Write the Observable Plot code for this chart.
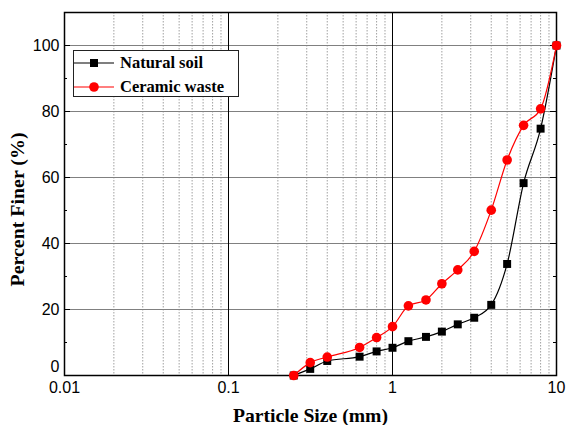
<!DOCTYPE html>
<html><head><meta charset="utf-8">
<script src="https://cdn.jsdelivr.net/npm/d3@7"></script>
<script src="https://cdn.jsdelivr.net/npm/@observablehq/plot@0.6"></script>
<style>
body{margin:0;background:#fff}
#wrap{position:relative;width:567px;height:425px}
#legend{position:absolute;left:73px;top:50px;width:166px;height:47px;border:1px solid #222;background:#fff;box-sizing:border-box;font-family:"Liberation Serif","Times New Roman",serif;font-weight:bold;font-size:16.5px;color:#000}
#legend .row{position:absolute;left:0;height:20px;display:flex;align-items:center}
#legend svg{display:block}
#legend span{margin-left:6px;white-space:nowrap}
</style></head><body><div id="wrap"></div>
<script>
// Data (particle size in mm, percent finer)
const sizes   = [0.25, 0.315, 0.4, 0.63, 0.8, 1, 1.25, 1.6, 2, 2.5, 3.15, 4, 5, 6.3, 8, 10];
const natural = [0, 2, 4.4, 5.7, 7.3, 8.4, 10.4, 11.7, 13.3, 15.5, 17.5, 21.4, 33.8, 58.3, 74.8, 100];
const ceramic = [0, 3.9, 5.6, 8.5, 11.5, 14.8, 21.1, 22.9, 27.8, 32, 37.6, 50.1, 65.3, 75.8, 80.8, 100];
const seriesNames = ["Natural soil", "Ceramic waste"];
const xTicks = [0.01, 0.1, 1, 10];
const xMinor = [0.02,0.03,0.04,0.05,0.06,0.07,0.08,0.09,0.2,0.3,0.4,0.5,0.6,0.7,0.8,0.9,2,3,4,5,6,7,8,9];
const yTicks = [20, 40, 60, 80, 100];
const yMinor = [10, 30, 50, 70, 90, 110];
const yZero = [0];

const natData = sizes.map((s, i) => ({size: s, pct: natural[i]}));
const cerData = sizes.map((s, i) => ({size: s, pct: ceramic[i]}));

const W = 567, H = 425, mL = 64, mR = 11, mT = 12, mB = 50;
const pW = W - mL - mR;
const serif = "'Liberation Serif', 'Times New Roman', serif";

const chart = Plot.plot({
  width: W, height: H,
  marginLeft: mL, marginRight: mR, marginTop: mT, marginBottom: mB,
  style: {fontFamily: "'Liberation Sans', Arial, sans-serif", fontSize: "16px", background: "#fff", color: "#000"},
  x: {type: "log", domain: [0.01, 10], axis: null},
  y: {domain: [0, 110], axis: null},
  marks: [
    Plot.gridX(xMinor, {stroke: "#a0a0a0", strokeOpacity: 1, strokeWidth: 1, strokeDasharray: "1.5,1.5"}),
    Plot.gridY(yTicks, {stroke: "#808080", strokeOpacity: 1, strokeWidth: 1}),
    Plot.gridX([0.1, 1], {stroke: "#000", strokeOpacity: 1, strokeWidth: 1}),
    Plot.tickY(yTicks, {y: d => d, stroke: "#000", insetRight: pW - 6}),
    Plot.tickY(yMinor, {y: d => d, stroke: "#000", insetRight: pW - 3}),
    Plot.tickY(yTicks, {y: d => d, stroke: "#000", insetLeft: pW - 6}),
    Plot.tickY(yMinor, {y: d => d, stroke: "#000", insetLeft: pW - 3}),
    Plot.frame({stroke: "#000", strokeWidth: 1.5}),
    Plot.axisY(yTicks, {tickSize: 0, tickPadding: 5, label: null, fontSize: 16}),
    Plot.axisY(yZero, {tickSize: 0, tickPadding: 5, dy: -9, label: null, fontSize: 16}),
    Plot.axisX(xTicks, {tickSize: 0, tickPadding: 6, tickFormat: d => String(d), label: null, fontSize: 16}),
    Plot.line(natData, {x: "size", y: "pct", stroke: "#000", strokeWidth: 1.2, curve: "monotone-x"}),
    Plot.dot(natData, {x: "size", y: "pct", symbol: "square", r: 4.5, fill: "#000", stroke: "none"}),
    Plot.line(cerData, {x: "size", y: "pct", stroke: "#ff0000", strokeWidth: 1.2, curve: "monotone-x"}),
    Plot.dot(cerData, {x: "size", y: "pct", symbol: "circle", r: 4.8, fill: "#ff0000", stroke: "none"}),
    Plot.text(["Percent Finer (%)"], {className: "ytitle", frameAnchor: "left", textAnchor: "middle", lineAnchor: "middle", rotate: -90, dx: -46.5, dy: 15.5, fontSize: 19.5, fontWeight: "bold", fontFamily: serif, fill: "#000"}),
    Plot.text(["Particle Size (mm)"], {className: "xtitle", frameAnchor: "bottom", textAnchor: "middle", lineAnchor: "middle", dy: 40, fontSize: 19.5, fontWeight: "bold", fontFamily: serif, fill: "#000"})
  ]
});

const wrap = document.getElementById("wrap");
wrap.appendChild(chart);

// Fix title lengths to match the reference
const yt = chart.querySelector(".ytitle text");
if (yt) { yt.setAttribute("textLength", "154"); yt.setAttribute("lengthAdjust", "spacingAndGlyphs"); }
const xt = chart.querySelector(".xtitle text");
if (xt) { xt.setAttribute("textLength", "155"); xt.setAttribute("lengthAdjust", "spacingAndGlyphs"); }

// Legend
const legend = document.createElement("div");
legend.id = "legend";
const swatches = [
  {name: seriesNames[0], color: "#000", shape: "square"},
  {name: seriesNames[1], color: "#ff0000", shape: "circle"}
];
swatches.forEach((s, i) => {
  const row = document.createElement("div");
  row.className = "row";
  row.style.top = (2 + i * 24) + "px";
  const marker = s.shape === "square"
    ? `<rect x="16" y="6" width="8" height="8" fill="${s.color}"/>`
    : `<circle cx="20" cy="10" r="4.8" fill="${s.color}"/>`;
  row.innerHTML = `<svg width="40" height="20"><line x1="0" x2="40" y1="10" y2="10" stroke="${s.color}" stroke-width="1.2"/>${marker}</svg><span>${s.name}</span>`;
  legend.appendChild(row);
});
wrap.appendChild(legend);
</script>
</body></html>
